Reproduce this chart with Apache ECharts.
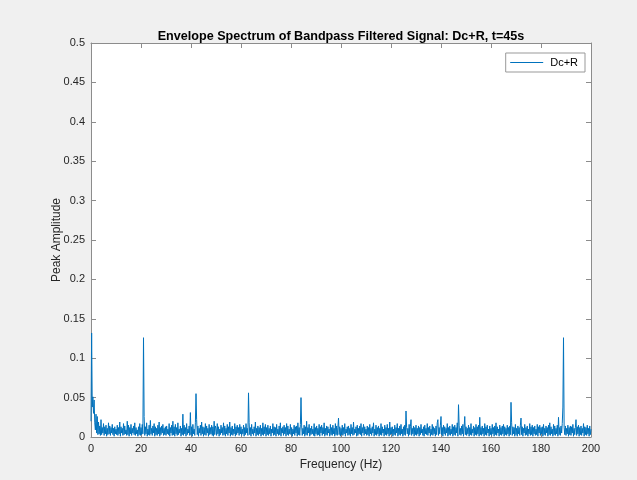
<!DOCTYPE html>
<html>
<head>
<meta charset="utf-8">
<script src="https://cdn.jsdelivr.net/npm/echarts@6/dist/echarts.min.js"></script>
<style>
  html, body { margin: 0; padding: 0; background: #f0f0f0; }
  #chart { width: 637px; height: 480px; }
</style>
</head>
<body>
<div id="chart"></div>
<script>
// Envelope spectrum, 0.25 Hz bins from 0 to 200 Hz, amplitudes in units of 0.001
const freqStepHz = 0.25;
const envAmpMilli = [
  20, 132, 38, 51, 30, 47, 18, 9, 29, 5, 26, 3, 19, 4, 14, 2, 22, 3, 12, 5, 17, 2, 13, 4, 15, 1, 11, 3, 18, 4, 14, 2, 12, 5, 16, 3, 11, 1, 13, 4,
  10, 3, 15, 2, 12, 4, 19, 1, 13, 5, 11, 2, 17, 3, 14, 4, 9, 2, 20, 3, 15, 1, 12, 4, 16, 2, 11, 5, 14, 3, 18, 2, 12, 4, 9, 1, 13, 3, 17, 2,
  12, 3, 16, 4, 126, 26, 2, 13, 4, 18, 1, 10, 3, 15, 2, 21, 4, 11, 2, 14, 5, 17, 1, 13, 3, 11, 2, 15, 4, 19, 1, 12, 3, 14, 5, 16, 2, 11, 3, 13,
  2, 14, 4, 10, 3, 17, 1, 12, 5, 15, 2, 20, 3, 13, 1, 16, 4, 12, 2, 18, 3, 10, 5, 14, 1, 11, 3, 29, 2, 15, 4, 12, 1, 17, 3, 10, 5, 14, 2, 31,
  3, 13, 1, 16, 4, 10, 2, 18, 55, 22, 3, 14, 1, 11, 5, 15, 2, 19, 4, 13, 1, 12, 3, 17, 2, 14, 5, 11, 1, 16, 3, 12, 4, 15, 2, 13, 1, 20, 3, 14,
  11, 2, 17, 4, 13, 1, 10, 3, 15, 5, 12, 2, 18, 3, 14, 1, 11, 4, 16, 2, 13, 5, 19, 1, 12, 3, 14, 2, 10, 4, 17, 1, 13, 3, 15, 5, 12, 2, 16, 4,
  13, 2, 10, 4, 15, 1, 12, 3, 17, 5, 11, 2, 56, 18, 3, 12, 1, 16, 4, 10, 2, 13, 5, 19, 1, 11, 3, 14, 2, 12, 4, 15, 1, 11, 3, 18, 2, 13, 4, 16,
  1, 12, 3, 15, 2, 11, 4, 14, 1, 10, 5, 17, 2, 13, 3, 12, 1, 16, 4, 10, 2, 14, 3, 18, 1, 11, 5, 13, 2, 15, 4, 12, 1, 17, 3, 14, 2, 10, 4, 16,
  3, 12, 1, 10, 4, 15, 2, 13, 5, 14, 1, 18, 3, 12, 2, 16, 50, 14, 2, 11, 4, 15, 1, 13, 3, 20, 2, 12, 5, 16, 1, 11, 3, 14, 4, 10, 2, 17, 1, 12,
  4, 14, 2, 11, 3, 16, 1, 13, 5, 15, 2, 12, 4, 18, 1, 11, 3, 14, 2, 13, 5, 10, 1, 16, 3, 12, 2, 15, 4, 11, 1, 17, 3, 14, 2, 12, 24, 3, 13, 1,
  11, 3, 15, 2, 12, 4, 17, 1, 10, 5, 13, 2, 14, 3, 11, 1, 16, 4, 12, 2, 19, 3, 10, 5, 13, 1, 15, 2, 11, 4, 14, 3, 17, 1, 12, 5, 16, 2, 13, 4,
  10, 2, 14, 3, 12, 1, 16, 4, 11, 2, 13, 5, 18, 1, 10, 3, 15, 2, 12, 4, 14, 1, 11, 3, 17, 2, 13, 5, 10, 1, 15, 3, 12, 2, 16, 4, 11, 1, 19, 3,
  12, 4, 13, 1, 10, 3, 15, 2, 12, 5, 17, 1, 11, 3, 14, 2, 16, 4, 10, 1, 13, 3, 15, 2, 33, 12, 4, 11, 1, 16, 3, 13, 22, 2, 11, 4, 14, 1, 12, 3,
  15, 2, 11, 4, 14, 1, 12, 3, 16, 5, 10, 2, 13, 1, 15, 4, 11, 3, 17, 2, 12, 5, 14, 1, 10, 3, 16, 2, 13, 4, 11, 1, 14, 3, 18, 22, 2, 12, 4, 15,
  26, 3, 12, 1, 15, 4, 13, 2, 11, 5, 17, 1, 12, 3, 14, 2, 10, 4, 16, 1, 13, 3, 15, 2, 12, 5, 18, 1, 41, 15, 3, 11, 2, 14, 4, 16, 1, 12, 26, 3,
  13, 2, 11, 4, 15, 1, 12, 3, 17, 2, 10, 5, 14, 1, 12, 3, 16, 2, 13, 4, 15, 1, 25, 3, 12, 2, 14, 4, 11, 1, 17, 3, 13, 2, 15, 5, 10, 1, 14, 3,
  11, 2, 16, 4, 12, 1, 14, 3, 18, 2, 13, 5, 10, 1, 15, 3, 12, 2, 14, 4, 16, 1, 13, 3, 11, 2, 15, 4, 12, 1, 14, 3, 44, 18, 2, 13, 4, 12, 1, 16,
  3, 11, 1, 14, 4, 12, 2, 15, 24, 3, 13, 1, 11, 5, 16, 2, 12, 3, 14, 1, 10, 4, 17, 2, 13, 3, 15, 1, 12, 4, 14, 2, 10, 3, 16, 1, 13, 5, 15, 2,
  12, 4, 13, 1, 16, 3, 11, 2, 14, 5, 12, 1, 15, 3, 18, 2, 13, 4, 10, 1, 16, 3, 14, 2, 11, 4, 15, 1, 25, 3, 12, 2, 14, 5, 17, 38, 126, 12, 3, 14,
  2, 11, 4, 15, 1, 12, 3, 14, 2, 13, 5, 16, 1, 11, 3, 12, 22, 2, 13, 4, 15, 1, 12, 3, 14, 2, 11, 5, 17, 1, 13, 3, 12, 2, 15, 4, 11, 1, 14, 3,
  10
];

const xTicks = { min: 0, max: 200, step: 20 };
const yTicks = { min: 0, max: 0.5, step: 0.05 };
const seriesName = 'Dc+R';
const chartTitle = 'Envelope Spectrum of Bandpass Filtered Signal: Dc+R, t=45s';

const spectrum = envAmpMilli.map((v, i) => [i * freqStepHz, v / 1000]);

const lineColor = '#0072bd';
const axisColor = '#262626';
const boxColor = '#8c8c8c';
const font = 'Liberation Sans, Arial, Helvetica, sans-serif';

function baseAxis(t, extra) {
  return Object.assign({
    type: 'value',
    min: t.min,
    max: t.max,
    interval: t.step,
    splitLine: { show: false },
    axisLine: { show: true, onZero: false, lineStyle: { color: boxColor, width: 1 } },
    axisTick: { show: true, inside: true, length: 5, lineStyle: { color: boxColor, width: 1 } },
    axisLabel: { show: false }
  }, extra);
}

const chart = echarts.init(document.getElementById('chart'), null, { renderer: 'canvas' });
chart.setOption({
  animation: false,
  backgroundColor: '#f0f0f0',
  textStyle: { fontFamily: font },
  title: {
    text: chartTitle,
    left: 336,
    top: 25,
    textAlign: 'center',
    textStyle: { fontFamily: font, fontSize: 12.6, fontWeight: 'bold', color: '#000' }
  },
  legend: {
    data: [seriesName],
    right: 52,
    top: 53,
    itemWidth: 33,
    itemHeight: 10,
    padding: [4, 7, 4, 4],
    backgroundColor: '#fff',
    borderColor: '#999',
    borderWidth: 1,
    itemStyle: { color: 'rgba(0,0,0,0)', borderWidth: 0 },
    lineStyle: { color: lineColor, width: 1 },
    textStyle: { fontFamily: font, fontSize: 11, color: '#000', padding: [0, 0, 0, 2] }
  },
  grid: {
    left: 91, right: 46, top: 43, bottom: 43,
    show: true, backgroundColor: '#fff', borderWidth: 0
  },
  xAxis: [
    baseAxis(xTicks, {
      position: 'bottom',
      name: 'Frequency (Hz)',
      nameLocation: 'middle',
      nameGap: 22,
      nameTextStyle: { fontFamily: font, fontSize: 12, color: axisColor },
      axisLabel: { show: true, fontFamily: font, fontSize: 11, color: axisColor, margin: 6 }
    }),
    baseAxis(xTicks, { position: 'top' })
  ],
  yAxis: [
    baseAxis(yTicks, {
      position: 'left',
      name: 'Peak Amplitude',
      nameLocation: 'middle',
      nameGap: 28,
      nameMoveOverlap: false,
      nameTextStyle: { fontFamily: font, fontSize: 12, color: axisColor },
      axisLabel: {
        show: true, fontFamily: font, fontSize: 11, color: axisColor, margin: 6,
        formatter: v => String(+v.toFixed(2))
      }
    }),
    baseAxis(yTicks, { position: 'right' })
  ],
  series: [{
    name: seriesName,
    type: 'line',
    xAxisIndex: 0,
    yAxisIndex: 0,
    data: spectrum,
    showSymbol: false,
    symbol: 'none',
    sampling: null,
    lineStyle: { color: lineColor, width: 1 },
    itemStyle: { color: lineColor }
  }]
});
</script>
</body>
</html>
